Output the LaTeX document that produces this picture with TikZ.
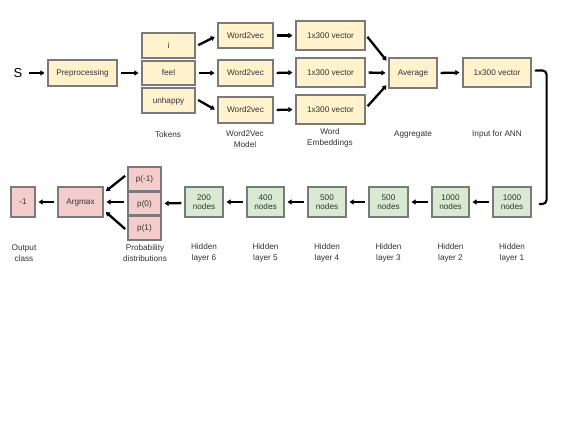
\documentclass[tikz,border=0pt]{standalone}
\usepackage{fontspec}
\setmainfont{Liberation Sans}
\usetikzlibrary{calc,arrows.meta}
\definecolor{txt}{HTML}{333333}
\definecolor{bord}{HTML}{7A7A7A}
\definecolor{yel}{HTML}{FFF2CC}
\definecolor{grn}{HTML}{D9EAD3}
\definecolor{pnk}{HTML}{F4CCCC}
\tikzset{
  box/.style={draw=bord, line width=1.1pt, inner sep=0pt, text=txt, font=\fontsize{8.2}{9.5}\selectfont},
  one/.style={text height=6pt, text depth=1pt},
  ybox/.style={box, one, fill=yel},
  gbox/.style={box, fill=grn, align=center},
  pbox/.style={box, one, fill=pnk},
  lab/.style={text=txt, font=\fontsize{8.2}{10.8}\selectfont, align=center, inner sep=0pt},
  arr/.style={line width=2.3pt, -{Triangle[length=4pt,width=5pt]}, shorten <=3pt, shorten >=3pt},
  conn/.style={line width=2.1pt, line cap=round}
}
\begin{document}
\begin{tikzpicture}[x=1pt,y=-1pt]
\useasboundingbox (0,0) rectangle (563,424);
\fill[white] (0,0) rectangle (563,424);
% top row
\node[text=black, font=\fontsize{13}{13}\selectfont, inner sep=0pt] (s) at (18,73) {S};
\node[ybox, minimum width=69pt, minimum height=26pt] (pre) at (82.5,73) {Preprocessing};
\node[ybox, minimum width=53pt, minimum height=25pt] (t1) at (168.5,45.5) {i};
\node[ybox, minimum width=53pt, minimum height=24pt] (t2) at (168.5,73) {feel};
\node[ybox, minimum width=53pt, minimum height=25pt] (t3) at (168.5,100.5) {unhappy};
\node[ybox, minimum width=55pt, minimum height=25pt] (w1) at (245.5,35.5) {Word2vec};
\node[ybox, minimum width=55pt, minimum height=26pt] (w2) at (245.5,73) {Word2vec};
\node[ybox, minimum width=55pt, minimum height=26pt] (w3) at (245.5,110) {Word2vec};
\node[ybox, minimum width=69pt, minimum height=29pt] (v1) at (330.5,35.5) {1x300 vector};
\node[ybox, minimum width=69pt, minimum height=29pt] (v2) at (330.5,72.5) {1x300 vector};
\node[ybox, minimum width=69pt, minimum height=29pt] (v3) at (330.5,109.5) {1x300 vector};
\node[ybox, minimum width=48pt, minimum height=30pt] (avg) at (413,73) {Average};
\node[ybox, minimum width=68pt, minimum height=29pt] (inp) at (497,72.5) {1x300 vector};
% top labels
\node[lab] (l1) at (168,135) {Tokens};
\node[lab] (l2) at (245,139) {Word2Vec\\Model};
\node[lab] (l3) at (330,137.5) {Word\\Embeddings};
\node[lab] (l4) at (413,135) {Aggregate};
\node[lab] (l5) at (497,134) {Input for ANN};
% bottom row
\node[gbox, minimum width=38pt, minimum height=30pt] (h1) at (512,202) {1000\\nodes};
\node[gbox, minimum width=37pt, minimum height=30pt] (h2) at (450.5,202) {1000\\nodes};
\node[gbox, minimum width=39pt, minimum height=30pt] (h3) at (388.5,202) {500\\nodes};
\node[gbox, minimum width=38pt, minimum height=30pt] (h4) at (327,202) {500\\nodes};
\node[gbox, minimum width=37pt, minimum height=30pt] (h5) at (265.5,202) {400\\nodes};
\node[gbox, minimum width=38pt, minimum height=30pt] (h6) at (204,202) {200\\nodes};
\node[pbox, minimum width=33pt, minimum height=24pt] (p1) at (144.5,179) {p(-1)};
\node[pbox, minimum width=33pt, minimum height=23pt] (p2) at (144.5,203.5) {p(0)};
\node[pbox, minimum width=33pt, minimum height=24pt] (p3) at (144.5,228) {p(1)};
\node[pbox, minimum width=45pt, minimum height=30pt] (am) at (80.5,202) {Argmax};
\node[pbox, minimum width=24pt, minimum height=30pt] (out) at (23,202) {-1};
% bottom labels
\node[lab] (b0) at (24,253) {Output\\class};
\node[lab] (b1) at (145,253) {Probability\\distributions};
\node[lab] (b2) at (204,253) {Hidden\\layer 6};
\node[lab] (b3) at (265.5,253) {Hidden\\layer 5};
\node[lab] (b4) at (327,253) {Hidden\\layer 4};
\node[lab] (b5) at (388.5,253) {Hidden\\layer 3};
\node[lab] (b6) at (450.5,253) {Hidden\\layer 2};
\node[lab] (b7) at (512,253) {Hidden\\layer 1};
% arrows top
\draw[arr, shorten <=6pt] (s.east) -- (pre.west);
\draw[arr] (pre.east) -- (t2.west);
\draw[arr] ($(t1.east)+(0,1)$) -- ($(w1.west)+(0,0)$);
\draw[arr] (t2.east) -- (w2.west);
\draw[arr] ($(t3.east)+(0,-2)$) -- ($(w3.west)+(0,1)$);
\draw[arr] (w1.east) -- (v1.west);
\draw[arr] (w2.east) -- (v2.west);
\draw[arr] (w3.east) -- (v3.west);
\draw[arr] ($(v1.east)+(0,-1)$) -- ($(avg.west)+(0,-10)$);
\draw[arr] (v2.east) -- (avg.west);
\draw[arr] ($(v3.east)+(0,-1)$) -- ($(avg.west)+(0,10)$);
\draw[arr] (avg.east) -- (inp.west);
% connector
\draw[conn, rounded corners=4pt] ($(inp.east)+(4,-2)$) -- ++(11,0) |- ($(h1.east)+(8,2)$);
% arrows bottom
\draw[arr] (h1.west) -- (h2.east);
\draw[arr] (h2.west) -- (h3.east);
\draw[arr] (h3.west) -- (h4.east);
\draw[arr] (h4.west) -- (h5.east);
\draw[arr] (h5.west) -- (h6.east);
\draw[arr] ($(h6.west)+(0,1)$) -- (p2.east);
\draw[arr] ($(p1.west)+(0,-5)$) -- ($(am.east)+(0,-9)$);
\draw[arr] ($(p2.west)+(0,-1.5)$) -- (am.east);
\draw[arr] ($(p3.west)+(0,3)$) -- ($(am.east)+(0,8)$);
\draw[arr] (am.west) -- (out.east);
\end{tikzpicture}
\end{document}
